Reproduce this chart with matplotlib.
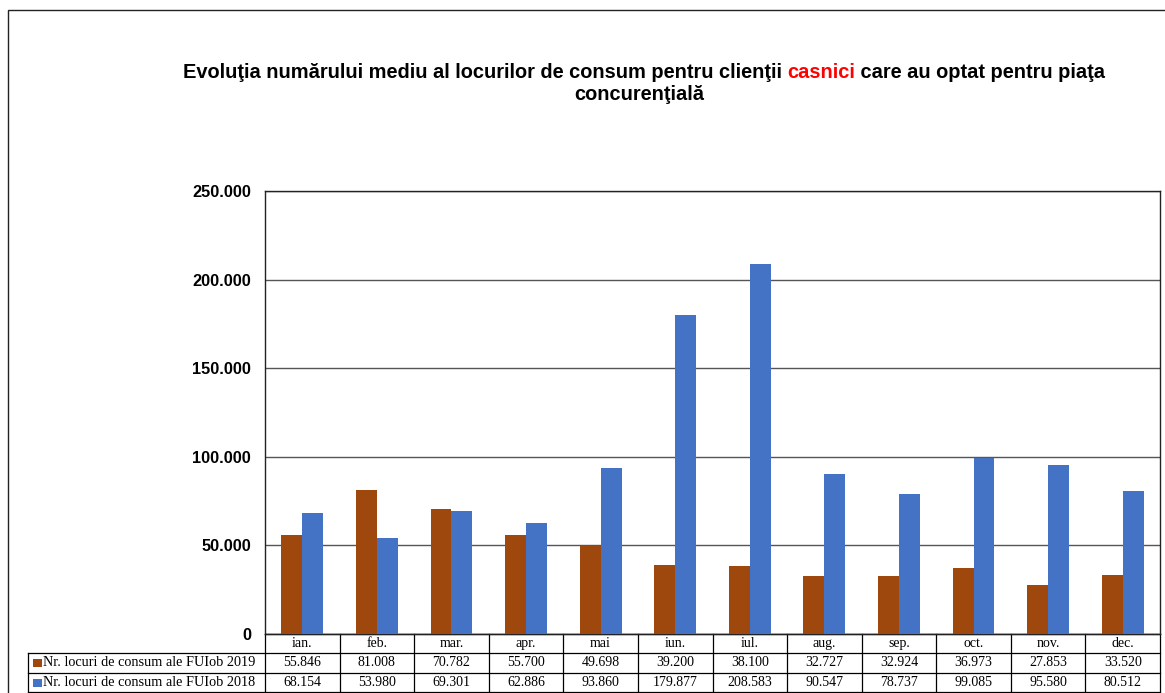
import matplotlib
matplotlib.use("Agg")
import matplotlib.pyplot as plt
from matplotlib.patches import Rectangle
from matplotlib.lines import Line2D
import numpy as np

months = ["ian.", "feb.", "mar.", "apr.", "mai", "iun.", "iul.", "aug.", "sep.", "oct.", "nov.", "dec."]
series_2019 = [55846, 81008, 70782, 55700, 49698, 39200, 38100, 32727, 32924, 36973, 27853, 33520]
series_2018 = [68154, 53980, 69301, 62886, 93860, 179877, 208583, 90547, 78737, 99085, 95580, 80512]
label_2019 = "Nr. locuri de consum ale FUIob 2019"
label_2018 = "Nr. locuri de consum ale FUIob 2018"
yticks = [0, 50000, 100000, 150000, 200000, 250000]

c2019 = "#9E480E"
c2018 = "#4472C4"

W, H = 1165, 693
fig = plt.figure(figsize=(W / 100, H / 100), dpi=100)
fig.patch.set_facecolor("white")

# outer chart border
fig.add_artist(Rectangle((8 / W, -0.02), 1.1, (H - 10) / H + 0.02, transform=fig.transFigure,
                         fill=False, edgecolor="#222222", linewidth=1.0))

x0, x1, ytop, ybot = 265, 1160, 191, 634
ax = fig.add_axes([x0 / W, (H - ybot) / H, (x1 - x0) / W, (ybot - ytop) / H])

n = len(months)
x = np.arange(n)
bw = 0.28
ax.bar(x - bw / 2, series_2019, width=bw, color=c2019, zorder=3)
ax.bar(x + bw / 2, series_2018, width=bw, color=c2018, zorder=3)
ax.set_xlim(-0.5, n - 0.5)
ax.set_ylim(0, 250000)
ax.set_yticks(yticks)
ax.set_yticklabels([f"{v:,}".replace(",", ".") if v else "0" for v in yticks],
                   fontfamily="Liberation Sans", fontweight="bold", fontsize=11.8)
ax.tick_params(axis="y", length=0, pad=10)
ax.set_xticks([])
ax.yaxis.grid(True, color="#555555", linewidth=1.0, zorder=0)
for s in ax.spines.values():
    s.set_color("#222222")
    s.set_linewidth(1.0)

# data table below axes (axes coordinates)
pw = x1 - x0
ph = ybot - ytop
def ay(py):
    return (ybot - py) / ph
def ax_(px):
    return (px - x0) / pw

row_edges = [634, 653, 673, 692]
label_left = 28
lkw = dict(transform=ax.transAxes, clip_on=False, color="black", linewidth=0.9)
ax.add_line(Line2D([0, 1], [ay(634), ay(634)], **lkw))
for py in row_edges[1:]:
    ax.add_line(Line2D([ax_(label_left), 1], [ay(py), ay(py)], **lkw))
for i in range(n + 1):
    xx = i / n
    ax.add_line(Line2D([xx, xx], [ay(634), ay(692)], **lkw))
ax.add_line(Line2D([ax_(label_left), ax_(label_left)], [ay(653), ay(692)], **lkw))

tfont = dict(fontfamily="Liberation Serif", fontsize=10, color="black")
for i, m in enumerate(months):
    cx = (i + 0.5) / n
    ax.text(cx, ay(643.5), m, ha="center", va="center", transform=ax.transAxes, clip_on=False, **tfont)
    ax.text(cx, ay(663), f"{series_2019[i]:,}".replace(",", "."), ha="center", va="center",
            transform=ax.transAxes, clip_on=False, **tfont)
    ax.text(cx, ay(682.5), f"{series_2018[i]:,}".replace(",", "."), ha="center", va="center",
            transform=ax.transAxes, clip_on=False, **tfont)

lfont = dict(fontfamily="Liberation Serif", fontsize=10.3, color="black")
for lab, col, yc in [(label_2019, c2019, 663), (label_2018, c2018, 682.5)]:
    ax.add_patch(Rectangle((ax_(33), ay(yc + 4)), 9 / pw, 8 / ph, transform=ax.transAxes,
                           clip_on=False, facecolor=col, edgecolor="none"))
    ax.text(ax_(43), ay(yc), lab, ha="left", va="center", transform=ax.transAxes,
            clip_on=False, **lfont)

# title with red word
tkw = dict(fontfamily="Liberation Sans", fontweight="bold", fontsize=14.4)
parts = [("Evoluţia numărului mediu al locurilor de consum pentru clienţii ", "black"),
         ("casnici", "#FF0000"),
         (" care au optat pentru piaţa", "black")]
renderer = fig.canvas.get_renderer()
texts = []
widths = []
for s, c in parts:
    t = fig.text(0, 0, s, color=c, ha="left", va="center", **tkw)
    texts.append(t)
    widths.append(t.get_window_extent(renderer).width)
total = sum(widths)
cx = 644
start = cx - total / 2
for t, w in zip(texts, widths):
    t.set_position((start / W, (H - 73) / H))
    start += w
fig.text(639 / W, (H - 95) / H, "concurenţială", ha="center", va="center", **tkw)

fig.savefig("out.png", dpi=100)
